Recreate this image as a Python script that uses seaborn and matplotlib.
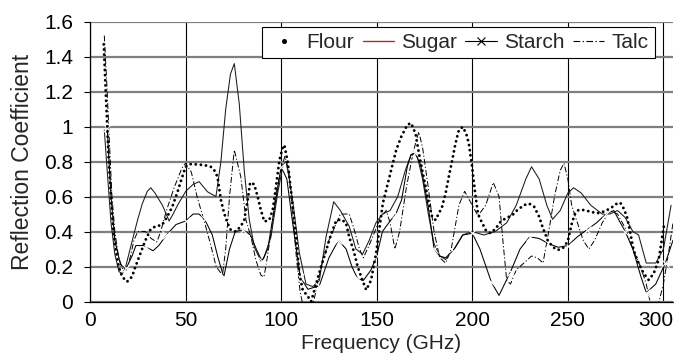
import matplotlib
matplotlib.use("Agg")
import matplotlib.pyplot as plt
import matplotlib.transforms as mtransforms
import pandas as pd
import seaborn as sns
from matplotlib.lines import Line2D

# Reflection coefficient vs frequency (GHz), one list of (freq, value) per powder
FLOUR = [
    (7.2, 1.47), (8.2, 1.21), (9.8, 0.81), (10.7, 0.656), (11.5, 0.505), (12.4, 0.39),
    (13.8, 0.276), (15.0, 0.2), (16.8, 0.142), (19.4, 0.113), (22.0, 0.142), (23.8, 0.2),
    (26.4, 0.275), (29.0, 0.35), (31.6, 0.41), (34.2, 0.43), (37.7, 0.437), (40.4, 0.485),
    (43.0, 0.54), (45.6, 0.62), (48.2, 0.71), (50.0, 0.77), (52.8, 0.786), (59.8, 0.78),
    (63.2, 0.77), (65.0, 0.751), (66.7, 0.713), (68.5, 0.58), (70.2, 0.504), (72.0, 0.447),
    (73.7, 0.408), (76.3, 0.4), (78.9, 0.43), (80.7, 0.466), (82.5, 0.58), (83.8, 0.68),
    (85.9, 0.67), (87.7, 0.6), (89.4, 0.523), (91.2, 0.457), (93.8, 0.466), (95.6, 0.523),
    (97.3, 0.656), (99.1, 0.808), (100.8, 0.88), (101.7, 0.894), (103.4, 0.8), (105.5, 0.6),
    (107.8, 0.37), (109.5, 0.16), (111.3, 0.066), (113.9, 0.03), (115.7, 0.0), (118.3, 0.1),
    (120.9, 0.2), (123.5, 0.29), (126.0, 0.38), (128.7, 0.46), (131.3, 0.47), (133.9, 0.45),
    (135.6, 0.37), (138.2, 0.28), (140.0, 0.2), (142.6, 0.12), (144.5, 0.066), (147.0, 0.12),
    (149.7, 0.276), (153.2, 0.561), (156.7, 0.714), (160.2, 0.866), (162.8, 0.941),
    (166.0, 1.01), (168.0, 1.02), (170.3, 0.96), (172.1, 0.846), (173.8, 0.751),
    (175.6, 0.656), (177.3, 0.56), (179.0, 0.485), (180.8, 0.466), (182.5, 0.503),
    (184.2, 0.541), (186.0, 0.617), (187.7, 0.713), (189.5, 0.808), (191.2, 0.903),
    (193.0, 0.98), (195.0, 0.998), (196.8, 0.96), (198.2, 0.903), (199.9, 0.77),
    (201.5, 0.62), (203.0, 0.5), (204.4, 0.466), (207.0, 0.409), (209.6, 0.39),
    (212.3, 0.418), (214.9, 0.457), (217.5, 0.476), (221.0, 0.494), (223.6, 0.523),
    (227.1, 0.551), (229.7, 0.56), (232.4, 0.541), (235.0, 0.484), (236.7, 0.428),
    (239.4, 0.351), (242.0, 0.313), (244.6, 0.294), (247.3, 0.304), (249.9, 0.342),
    (252.1, 0.447), (253.8, 0.504), (255.6, 0.523), (258.2, 0.523), (261.7, 0.514),
    (265.2, 0.504), (268.7, 0.514), (272.2, 0.532), (275.7, 0.56), (277.4, 0.565),
    (279.2, 0.532), (280.9, 0.485), (282.7, 0.39), (284.4, 0.294), (287.0, 0.218),
    (289.7, 0.16), (292.3, 0.123), (294.9, 0.16), (297.5, 0.237), (300.2, 0.428),
]

SUGAR = [
    (7.5, 0.98), (9.0, 0.75), (11.0, 0.45), (13.0, 0.27), (15.2, 0.17), (17.0, 0.16),
    (18.7, 0.2), (21.0, 0.3), (23.1, 0.39), (25.0, 0.47), (27.4, 0.56), (30.0, 0.63),
    (31.8, 0.65), (34.0, 0.62), (37.9, 0.55), (41.4, 0.46), (43.5, 0.5), (45.8, 0.55),
    (50.1, 0.63), (54.0, 0.67), (57.1, 0.685), (61.5, 0.627), (65.9, 0.6), (68.5, 0.8),
    (71.0, 1.1), (73.5, 1.3), (75.5, 1.36), (78.1, 1.13), (80.7, 0.75), (83.3, 0.47),
    (86.0, 0.31), (89.5, 0.23), (91.0, 0.25), (94.7, 0.37), (98.2, 0.62), (101.0, 0.78),
    (102.5, 0.8), (104.0, 0.72), (106.0, 0.58), (109.5, 0.28), (113.0, 0.1), (116.5, 0.085),
    (120.0, 0.12), (123.5, 0.37), (127.5, 0.57), (131.0, 0.52), (135.6, 0.43), (139.1, 0.3),
    (142.6, 0.27), (146.1, 0.35), (149.6, 0.45), (153.0, 0.5), (157.0, 0.52), (161.0, 0.6),
    (165.0, 0.75), (168.0, 0.84), (171.0, 0.84), (174.0, 0.7), (177.0, 0.5), (180.0, 0.33),
    (183.0, 0.26), (186.0, 0.24), (190.0, 0.29), (195.0, 0.38), (200.0, 0.40), (206.0, 0.38),
    (212.0, 0.4), (218.0, 0.45), (223.0, 0.55), (228.0, 0.7), (231.0, 0.77), (235.0, 0.7),
    (239.0, 0.55), (242.0, 0.47), (246.0, 0.52), (250.0, 0.62), (253.0, 0.65), (257.0, 0.62),
    (262.0, 0.55), (268.0, 0.5), (272.0, 0.5), (276.0, 0.52), (280.0, 0.48), (284.0, 0.4),
    (287.0, 0.38), (291.0, 0.22), (296.0, 0.22), (300.0, 0.3), (304.0, 0.55),
]

STARCH = [
    (9.0, 0.99), (11.0, 0.6), (13.0, 0.35), (16.0, 0.21), (19.0, 0.19), (22.0, 0.26),
    (24.0, 0.32), (28.0, 0.32), (29.5, 0.31), (33.0, 0.29), (36.0, 0.32), (40.0, 0.38),
    (45.0, 0.44), (50.0, 0.46), (54.0, 0.5), (57.0, 0.5), (60.0, 0.47), (64.0, 0.38),
    (67.0, 0.25), (70.0, 0.14), (73.0, 0.3), (76.0, 0.4), (80.0, 0.41), (84.0, 0.38),
    (87.0, 0.3), (90.0, 0.23), (93.0, 0.3), (96.0, 0.5), (100.0, 0.77), (103.0, 0.7),
    (106.0, 0.45), (110.0, 0.14), (114.0, 0.07), (117.0, 0.08), (120.0, 0.09), (125.0, 0.25),
    (130.0, 0.35), (134.0, 0.3), (137.0, 0.2), (140.0, 0.13), (143.0, 0.12), (147.0, 0.18),
    (150.0, 0.26), (153.0, 0.4), (157.0, 0.46), (160.0, 0.5), (163.0, 0.58), (166.0, 0.77),
    (168.0, 0.84), (170.0, 0.85), (173.0, 0.78), (177.0, 0.54), (180.0, 0.3), (183.0, 0.26),
    (186.0, 0.25), (190.0, 0.29), (195.0, 0.38), (200.0, 0.39), (204.0, 0.3), (210.0, 0.11),
    (214.0, 0.035), (220.0, 0.17), (225.0, 0.3), (230.0, 0.37), (235.0, 0.36), (240.0, 0.33),
    (245.0, 0.31), (250.0, 0.32), (255.0, 0.37), (260.0, 0.41), (265.0, 0.45), (270.0, 0.5),
    (274.0, 0.52), (280.0, 0.4), (284.0, 0.3), (288.0, 0.15), (291.0, 0.05), (296.0, 0.1),
    (301.0, 0.22), (305.0, 0.35),
]
# frequencies that carry an "x" marker on the starch trace
STARCH_MARKS = [9.0, 19.0, 29.5, 40.0, 50.0, 60.0, 70.0, 80.0, 90.0, 100.0, 110.0, 120.0,
                130.0, 140.0, 150.0, 160.0, 170.0, 180.0, 190.0, 200.0, 210.0, 220.0,
                230.0, 240.0, 250.0, 260.0, 270.0, 280.0, 291.0, 301.0]

TALC = [
    (7.5, 1.52), (9.0, 1.2), (10.0, 0.95), (11.5, 0.6), (13.0, 0.4), (15.0, 0.25),
    (17.0, 0.19), (19.0, 0.18), (21.0, 0.25), (23.0, 0.35), (25.0, 0.40), (29.0, 0.40),
    (32.0, 0.36), (35.0, 0.34), (37.0, 0.4), (40.0, 0.52), (44.0, 0.65), (48.0, 0.76),
    (50.0, 0.79), (53.0, 0.74), (56.0, 0.6), (60.0, 0.45), (63.0, 0.33), (66.0, 0.2),
    (69.3, 0.15), (71.0, 0.3), (73.0, 0.6), (75.5, 0.866), (78.9, 0.713), (81.6, 0.466),
    (84.2, 0.37), (86.8, 0.237), (89.4, 0.151), (91.0, 0.14), (92.0, 0.2), (94.7, 0.39),
    (97.3, 0.618), (100.0, 0.76), (102.0, 0.83), (104.0, 0.75), (106.0, 0.5), (108.0, 0.25),
    (110.0, 0.05), (112.0, -0.05), (116.0, -0.05), (118.0, 0.05), (121.0, 0.2), (125.0, 0.35),
    (129.0, 0.45), (131.0, 0.5), (135.6, 0.5), (138.0, 0.42), (141.0, 0.3), (143.0, 0.25),
    (146.0, 0.32), (149.0, 0.4), (152.0, 0.48), (155.0, 0.52), (157.0, 0.45), (159.5, 0.3),
    (162.0, 0.4), (165.5, 0.65), (169.0, 0.85), (172.0, 0.97), (174.0, 0.88), (177.0, 0.65),
    (180.0, 0.4), (183.0, 0.25), (186.0, 0.22), (189.0, 0.3), (193.0, 0.55), (196.0, 0.63),
    (200.0, 0.55), (203.0, 0.49), (207.0, 0.55), (211.0, 0.68), (214.0, 0.6), (216.0, 0.35),
    (218.0, 0.12), (220.0, 0.1), (223.0, 0.18), (227.0, 0.22), (231.0, 0.26), (234.0, 0.25),
    (237.0, 0.22), (240.0, 0.4), (243.0, 0.6), (246.0, 0.75), (248.0, 0.79), (250.0, 0.7),
    (252.0, 0.55), (255.0, 0.45), (258.0, 0.35), (261.0, 0.3), (264.0, 0.35), (268.0, 0.45),
    (272.0, 0.52), (276.0, 0.5), (280.0, 0.42), (284.0, 0.3), (288.0, 0.2), (291.0, 0.1),
    (294.0, -0.05), (297.0, -0.03), (300.0, 0.1), (303.0, 0.3), (305.0, 0.45),
]

SERIES_NAMES = ["Flour", "Sugar", "Starch", "Talc"]
X_TICKS = [0, 50, 100, 150, 200, 250, 300]
Y_TICKS = [0, 0.2, 0.4, 0.6, 0.8, 1.0, 1.2, 1.4, 1.6]
Y_TICK_LABELS = ["0", "0.2", "0.4", "0.6", "0.8", "1", "1.2", "1.4", "1.6"]


def frame(points):
    return pd.DataFrame(points, columns=["freq", "refl"])


sns.set_style("white")
plt.rcParams["font.family"] = ["Liberation Sans", "DejaVu Sans"]
FS = 15

fig = plt.figure(figsize=(6.74, 3.6), dpi=100)
ax = fig.add_axes([0.1335, 0.1625, 0.865, 0.7775])

talc_dash = (0, (6, 2.2, 1.2, 2.2))

sns.lineplot(data=frame(TALC), x="freq", y="refl", ax=ax, estimator=None,
             color="black", linewidth=0.7, linestyle=talc_dash)
sns.lineplot(data=frame(SUGAR), x="freq", y="refl", ax=ax, estimator=None,
             color="#1a1a1a", linewidth=0.75)
starch_df = frame(STARCH)
mark_idx = [i for i, f in enumerate(starch_df["freq"]) if f in STARCH_MARKS]
sns.lineplot(data=starch_df, x="freq", y="refl", ax=ax, estimator=None,
             color="black", linewidth=0.75, marker="x", markersize=6,
             markeredgewidth=0.8, markevery=mark_idx)
# flour is drawn as a chain of separate round dots
sns.lineplot(data=frame(FLOUR), x="freq", y="refl", ax=ax, estimator=None,
             color="black", linewidth=2.1, linestyle=(0, (0.01, 1.75)),
             dash_capstyle="round")

ax.set_xlim(0, 305)
ax.set_ylim(0, 1.6)
ax.set_xticks(X_TICKS)
ax.set_yticks(Y_TICKS)
ax.set_yticklabels(Y_TICK_LABELS)
ax.set_axisbelow(True)
ax.grid(axis="y", color="#7f7f7f", linewidth=1.6)
ax.grid(axis="x", color="black", linewidth=0.8)

for side in ("top", "right"):
    ax.spines[side].set_visible(False)
for side in ("left", "bottom"):
    ax.spines[side].set_color("black")
    ax.spines[side].set_linewidth(0.9)

ax.tick_params(axis="y", left=True, length=4, width=0.8, pad=8, labelsize=FS, colors="black")
ax.tick_params(axis="x", bottom=False, length=0, pad=7, labelsize=FS, colors="black")
ax.set_xlabel("Frequency (GHz)", fontsize=FS, labelpad=3)
ax.set_ylabel("Reflection Coefficient", fontsize=16.5, labelpad=7)

# keep the last frequency label inside the canvas
fig.canvas.draw()
last = ax.get_xticklabels()[-1]
last.set_horizontalalignment("right")
last.set_transform(last.get_transform()
                   + mtransforms.ScaledTranslation(10 / 100, 0, fig.dpi_scale_trans))

handles = [
    Line2D([], [], linestyle="none", marker="o", markersize=2.6, color="black"),
    Line2D([], [], color="#b52a2a", linewidth=1.0),
    Line2D([], [], color="black", linewidth=0.8, marker="x", markersize=6, markeredgewidth=0.8),
    Line2D([], [], color="black", linewidth=0.8, linestyle=talc_dash),
]
leg = ax.legend(handles, SERIES_NAMES, loc="upper right",
                bbox_to_anchor=(654.5 / 674, 1 - 26.7 / 360), bbox_transform=fig.transFigure,
                ncol=4, frameon=True, fancybox=False, edgecolor="black", framealpha=1,
                handlelength=1.5, handletextpad=0.35, columnspacing=0.4,
                borderpad=0.3, borderaxespad=0, fontsize=FS)
leg.get_frame().set_linewidth(0.8)

fig.savefig("out.png", dpi=100)
